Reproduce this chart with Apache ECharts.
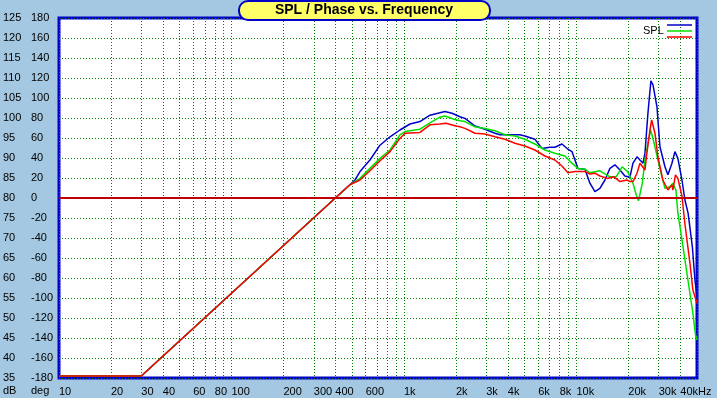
<!DOCTYPE html>
<html>
<head>
<meta charset="utf-8">
<script src="https://cdn.jsdelivr.net/npm/echarts@6/dist/echarts.min.js"></script>
<style>
  html, body { margin: 0; padding: 0; background: #a4c8e1; }
  #chart { width: 717px; height: 398px; }
</style>
</head>
<body>
<div id="chart"></div>
<script>
  // SPL curves, [frequency Hz, dB]
  const splBlue = [[10, 35.5], [30, 35.5], [400, 80], [486, 83.3], [520, 84.5], [556, 86.6], [635, 89.5], [726, 93.2], [830, 95.3], [948, 97], [1084, 98.5], [1238, 99.1], [1415, 100.7], [1617, 101.3], [1728, 101.6], [1898, 101.2], [2113, 100.3], [2258, 99.9], [2581, 98], [2949, 97.2], [3370, 96.2], [3603, 95.8], [4116, 95.8], [4701, 95.8], [5025, 95.5], [5742, 94.7], [6310, 92.4], [7015, 92.7], [7499, 92.7], [8241, 93.5], [8925, 92.2], [9418, 91.6], [10200, 87.4], [11200, 87.2], [11970, 83.7], [12800, 81.6], [13680, 82.4], [14630, 84.5], [15640, 87.4], [16720, 88.3], [17870, 87], [19100, 85.5], [20420, 85.2], [21270, 88.7], [22440, 90.3], [23350, 89.5], [24320, 88.7], [24960, 91.2], [25970, 101.2], [27020, 109.3], [27780, 108.3], [29300, 102.8], [30490, 92.8], [32600, 87.8], [33910, 85.8], [35790, 88.7], [37240, 91.6], [38740, 89.9], [40900, 84.5], [42560, 79.5], [44400, 76.2], [47000, 67.8], [48650, 59.5], [50000, 55.3]];
  const splGreen = [[10, 35.5], [30, 35.5], [400, 80], [486, 83.3], [556, 84.9], [635, 87.4], [726, 89.9], [830, 92], [948, 95.8], [1014, 96.6], [1238, 97.2], [1415, 98.8], [1617, 100.2], [1728, 100.5], [1950, 99.7], [2113, 99.3], [2258, 99.1], [2581, 97.8], [2949, 97.4], [3370, 96.8], [3852, 95.8], [4399, 95.5], [5025, 94.7], [5742, 93.5], [6564, 92], [7499, 91.2], [8575, 90.5], [9200, 89.1], [10200, 87.4], [11200, 87.2], [11970, 86.3], [13680, 86.8], [15640, 85.3], [17000, 85.3], [18400, 87.8], [19800, 86.6], [21270, 83.7], [22200, 80.8], [22900, 79.3], [24100, 83.7], [24960, 89.5], [25970, 93.7], [26900, 97], [27600, 95.3], [28520, 92.8], [29680, 89.5], [31320, 85.3], [32600, 82.4], [34840, 82.8], [36250, 83.7], [37730, 82], [38740, 76.2], [41500, 67.8], [44300, 59.5], [47330, 51.2], [49000, 45.8], [50000, 44.5]];
  const splRed = [[10, 35.5], [30, 35.5], [400, 80], [486, 83.3], [556, 84.5], [635, 86.8], [726, 89.3], [830, 91.6], [948, 94.9], [1014, 96.2], [1238, 96.4], [1415, 98.3], [1617, 98.5], [1750, 98.7], [2000, 98], [2113, 97.8], [2258, 97.4], [2581, 96.2], [2949, 96], [3370, 95.3], [3852, 94.7], [4399, 93.7], [5025, 93], [5742, 92], [6564, 90.5], [7499, 89.5], [8241, 88], [8925, 86.3], [9796, 86.6], [11200, 86.6], [11970, 86], [12800, 86.2], [13680, 85.5], [15100, 84.9], [16500, 85.3], [17870, 84.1], [19600, 84.5], [20420, 84.1], [21270, 84.1], [22440, 86.2], [23350, 88.7], [24960, 87], [25450, 90.3], [26680, 97], [27300, 99.5], [28520, 96.2], [29680, 90.3], [31700, 84.5], [33910, 82], [35790, 83.3], [36250, 82], [37500, 85.8], [38740, 84.9], [40900, 80.5], [42560, 73.5], [45500, 63.7], [47330, 57], [50000, 53.7]];

  // axis ticks / labels
  const freqLabels = [10, 20, 30, 40, 60, 80, 100, 200, 300, 400, 600, 1000, 2000, 3000, 4000, 6000, 8000, 10000, 20000, 30000, 40000];
  const freqGrid = [10, 20, 30, 40, 50, 60, 70, 80, 90, 100, 200, 300, 400, 500, 600, 700, 800, 900,
    1000, 2000, 3000, 4000, 5000, 6000, 7000, 8000, 9000, 10000, 20000, 30000, 40000, 50000];

  const font = 'Liberation Sans, Arial, sans-serif';
  const gridGreen = '#008000';

  const chart = echarts.init(document.getElementById('chart'));
  chart.setOption({
    animation: false,
    backgroundColor: '#a4c8e1',
    grid: {
      left: 59, right: 20, top: 18, bottom: 20,
      show: true,
      backgroundColor: '#ffffff',
      borderColor: '#0000c8',
      borderWidth: 3
    },
    xAxis: {
      type: 'log',
      logBase: 10,
      min: 10,
      max: 50000,
      axisLine: { show: false },
      axisTick: { show: false, customValues: freqGrid },
      splitLine: { show: true, lineStyle: { color: gridGreen, width: 1, type: [1, 2] } },
      axisLabel: {
        customValues: freqLabels,
        align: 'left',
        margin: 8,
        color: '#000',
        fontFamily: font,
        fontSize: 11,
        formatter: function (v) {
          if (v >= 40000) return '40kHz'
          if (v >= 1000) return (v / 1000) + 'k'
          return String(v)
        }
      }
    },
    yAxis: [{
      type: 'value',
      min: 35,
      max: 125,
      interval: 5,
      position: 'left',
      axisLine: { show: false },
      axisTick: { show: false },
      splitLine: { show: true, lineStyle: { color: gridGreen, width: 1, type: [1, 2] } },
      axisLabel: {
        align: 'left',
        margin: 56,
        color: '#000',
        fontFamily: font,
        fontSize: 11,
        padding: [0, 0, 6, 0]
      }
    }, {
      type: 'value',
      min: -180,
      max: 180,
      interval: 20,
      position: 'left',
      axisLine: { show: false },
      axisTick: { show: false },
      splitLine: { show: false },
      axisLabel: {
        align: 'left',
        margin: 28,
        color: '#000',
        fontFamily: font,
        fontSize: 11,
        padding: [0, 0, 6, 0]
      }
    }],
    series: [{
      name: 'phase0',
      type: 'line',
      yAxisIndex: 1,
      data: [],
      markLine: {
        silent: true,
        symbol: 'none',
        label: { show: false },
        lineStyle: { color: '#c00000', width: 2, type: 'solid' },
        data: [{ yAxis: 0 }]
      }
    }, {
      name: 'SPL blue',
      type: 'line',
      data: splBlue,
      showSymbol: false,
      lineStyle: { color: '#0000cc', width: 1.5 }
    }, {
      name: 'SPL green',
      type: 'line',
      data: splGreen,
      showSymbol: false,
      lineStyle: { color: '#00e000', width: 1.5 }
    }, {
      name: 'SPL red',
      type: 'line',
      data: splRed,
      showSymbol: false,
      lineStyle: { color: '#ff0000', width: 1.5 }
    }],
    graphic: [
      // title box
      { type: 'rect', left: 238, top: 0, z: 100,
        shape: { width: 251, height: 19, r: 9 },
        style: { fill: '#ffff66', stroke: '#0000c8', lineWidth: 2 } },
      { type: 'text', x: 364, y: 10, z: 101,
        style: { text: 'SPL / Phase vs. Frequency', font: 'bold 14px ' + font, fill: '#000', align: 'center', verticalAlign: 'middle' } },
      // legend
      { type: 'text', x: 643, y: 31, z: 100,
        style: { text: 'SPL', font: '11px ' + font, fill: '#000', verticalAlign: 'middle' } },
      { type: 'line', z: 100, shape: { x1: 667, y1: 25, x2: 692, y2: 25 }, style: { stroke: '#0000cc', lineWidth: 1.5 } },
      { type: 'line', z: 100, shape: { x1: 667, y1: 31, x2: 692, y2: 31 }, style: { stroke: '#00e000', lineWidth: 1.5 } },
      { type: 'line', z: 100, shape: { x1: 667, y1: 37, x2: 692, y2: 37 }, style: { stroke: '#ff0000', lineWidth: 1.5 } },
      // unit labels
      { type: 'text', x: 3, y: 391, style: { text: 'dB', font: '11px ' + font, fill: '#000', verticalAlign: 'middle' } },
      { type: 'text', x: 31, y: 391, style: { text: 'deg', font: '11px ' + font, fill: '#000', verticalAlign: 'middle' } }
    ]
  });
</script>
</body>
</html>
